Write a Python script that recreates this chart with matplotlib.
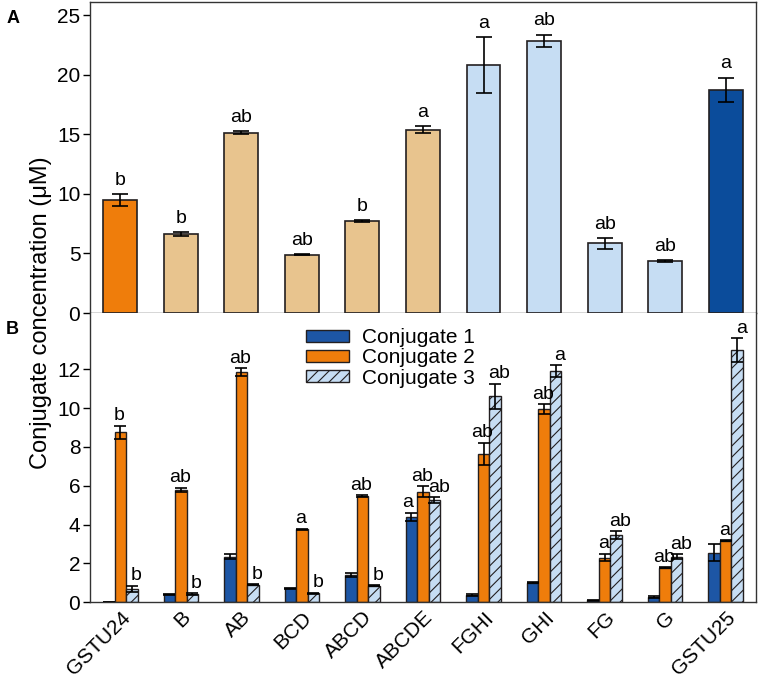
import numpy as np
import matplotlib
matplotlib.use("Agg")
import matplotlib.pyplot as plt
from matplotlib.transforms import ScaledTranslation

plt.rcParams["font.family"] = ["Liberation Sans", "DejaVu Sans"]
plt.rcParams["hatch.linewidth"] = 0.8

ORANGE = "#ef7d0b"
TAN = "#e8c48e"
LBLUE = "#c6ddf3"
DBLUE = "#0b4c9b"
C1BLUE = "#1d56a5"
EDGE = "#231f20"

lines = ["GSTU24", "B", "AB", "BCD", "ABCD", "ABCDE", "FGHI", "GHI", "FG", "G", "GSTU25"]

# panel A: total conjugate
total = [9.45, 6.65, 15.15, 4.9, 7.7, 15.4, 20.8, 22.85, 5.85, 4.35, 18.75]
total_err = [0.5, 0.15, 0.1, 0.05, 0.08, 0.3, 2.35, 0.5, 0.45, 0.07, 1.0]
total_letters = ["b", "b", "ab", "ab", "b", "a", "a", "ab", "ab", "ab", "a"]
total_colors = [ORANGE, TAN, TAN, TAN, TAN, TAN, LBLUE, LBLUE, LBLUE, LBLUE, DBLUE]

# panel B: three conjugates
conj1 = [0.0, 0.4, 2.35, 0.72, 1.4, 4.4, 0.36, 1.0, 0.1, 0.27, 2.56]
conj1_err = [0.0, 0.03, 0.12, 0.03, 0.08, 0.2, 0.04, 0.03, 0.03, 0.04, 0.45]
conj2 = [8.75, 5.8, 11.85, 3.75, 5.45, 5.7, 7.65, 9.95, 2.3, 1.77, 3.16]
conj2_err = [0.35, 0.1, 0.2, 0.03, 0.05, 0.28, 0.57, 0.25, 0.2, 0.03, 0.03]
conj3 = [0.7, 0.42, 0.9, 0.45, 0.85, 5.25, 10.6, 11.9, 3.45, 2.35, 13.0]
conj3_err = [0.15, 0.03, 0.03, 0.03, 0.03, 0.15, 0.65, 0.3, 0.2, 0.12, 0.6]
letters2 = ["b", "ab", "ab", "a", "ab", "ab", "ab", "ab", "a", "ab", "a"]
letters3 = ["b", "b", "b", "b", "b", "ab", "ab", "a", "ab", "ab", "a"]
letters1 = {5: "a"}

fig = plt.figure(figsize=(7.59, 6.82), dpi=100)
axA = fig.add_axes([0.1186, 0.541, 0.8774, 0.456])
axB = fig.add_axes([0.1186, 0.117, 0.8774, 0.424])

x = np.arange(len(lines))
err_kw = dict(ecolor="black", elinewidth=1.2, capthick=1.2)
LFS = 14  # significance letters

# ---- panel A
axA.bar(x, total, width=0.56, color=total_colors, edgecolor=EDGE, linewidth=1.2,
        yerr=total_err, capsize=6, error_kw=err_kw, zorder=2)
for xi, v, e, t in zip(x, total, total_err, total_letters):
    axA.text(xi, v + e + 0.45, t, ha="center", va="bottom", fontsize=LFS)
axA.set_xlim(-0.5, 10.5)
axA.set_ylim(0, 26.1)
axA.set_yticks([0, 5, 10, 15, 20, 25])
axA.set_xticks([])
axA.tick_params(axis="y", labelsize=15, length=5, width=1, pad=2)

# ---- panel B
w = 0.19
axB.bar(x - w, conj1, width=w, color=C1BLUE, edgecolor=EDGE, linewidth=1,
        yerr=conj1_err, capsize=4, error_kw=err_kw, label="Conjugate 1", zorder=2)
axB.bar(x, conj2, width=w, color=ORANGE, edgecolor=EDGE, linewidth=1,
        yerr=conj2_err, capsize=4, error_kw=err_kw, label="Conjugate 2", zorder=2)
axB.bar(x + w, conj3, width=w, color=LBLUE, edgecolor=EDGE, linewidth=1, hatch="///",
        yerr=conj3_err, capsize=4, error_kw=err_kw, label="Conjugate 3", zorder=2)

for i in range(len(lines)):
    axB.text(x[i] - 0.02, conj2[i] + conj2_err[i] + 0.08, letters2[i], ha="center", va="bottom", fontsize=LFS)
    axB.text(x[i] + w + 0.07, conj3[i] + conj3_err[i] + 0.08, letters3[i], ha="center", va="bottom", fontsize=LFS)
for i, t in letters1.items():
    axB.text(x[i] - w - 0.06, conj1[i] + conj1_err[i] + 0.08, t, ha="center", va="bottom", fontsize=LFS)

axB.set_xlim(-0.5, 10.5)
axB.set_ylim(0, 14.9)
axB.set_yticks([0, 2, 4, 6, 8, 10, 12])
axB.set_xticks(x)
axB.set_xticklabels(lines, rotation=45, ha="right", rotation_mode="anchor", fontsize=15)
shift = ScaledTranslation(11 / 100, -6 / 100, fig.dpi_scale_trans)
for lab in axB.get_xticklabels():
    lab.set_transform(lab.get_transform() + shift)
axB.tick_params(axis="y", labelsize=15, length=5, width=1, pad=2)
axB.tick_params(axis="x", length=0, pad=4)
axB.legend(loc="upper left", bbox_to_anchor=(0.305, 0.99), frameon=False, fontsize=15,
           handlelength=2.1, handleheight=0.5, handletextpad=0.6, labelspacing=0.05,
           borderaxespad=0.2)

for ax in (axA, axB):
    for s in ax.spines.values():
        s.set_color("#333333")
        s.set_linewidth(1)
axB.spines["top"].set_visible(False)

fig.text(0.054, 0.541, "Conjugate concentration (\u03bcM)", rotation=90, ha="center", va="center", fontsize=17)
fig.text(0.008, 0.985, "A", fontsize=13, fontweight="bold", va="top")
fig.text(0.008, 0.53, "B", fontsize=13, fontweight="bold", va="top")

fig.savefig("out.png", dpi=100, facecolor="white")
